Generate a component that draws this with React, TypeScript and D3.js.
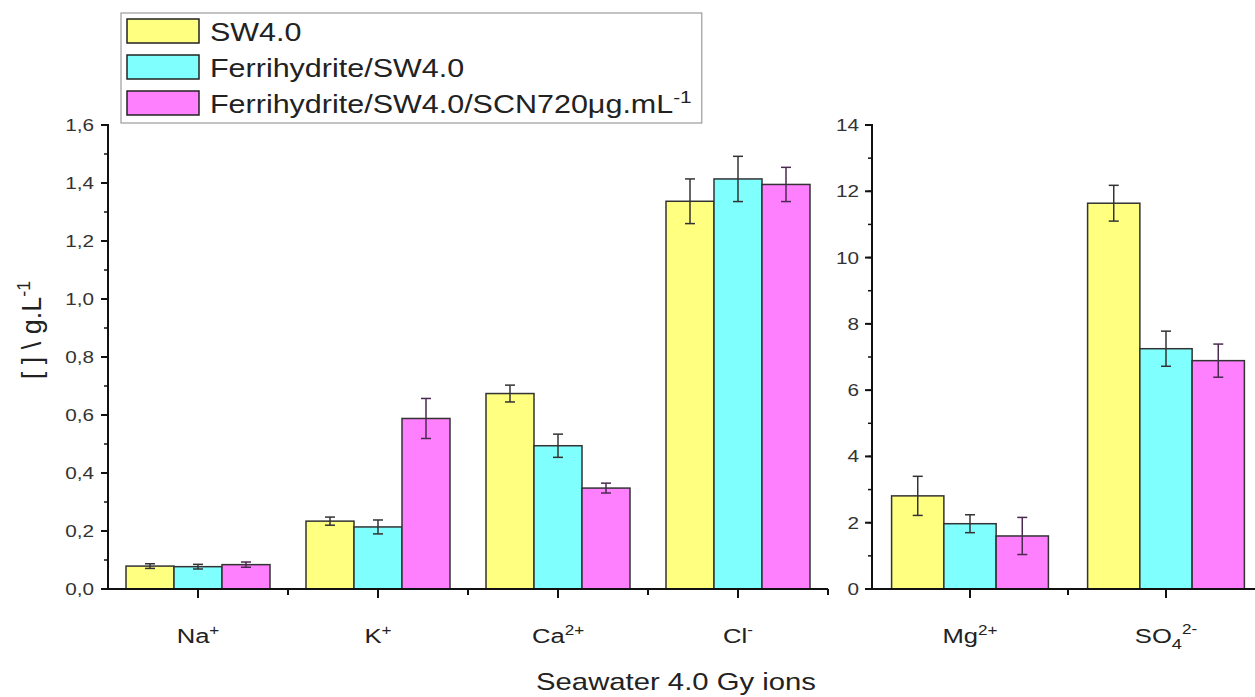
import React from "react";
import * as d3 from "d3";

const leftCategories = ["Na", "K", "Ca", "Cl"];
const leftSup = ["+", "+", "2+", "-"];
const rightCategories = ["Mg", "SO"];
const rightSub = ["", "4"];
const rightSup = ["2+", "2-"];
const seriesNames = ["SW4.0", "Ferrihydrite/SW4.0", "Ferrihydrite/SW4.0/SCN720"];
const seriesColors = ["#FFFF80", "#80FFFF", "#FF80FF"];
const errorColors = ["#333333", "#333333", "#4a2a4f"];

const sw40Left = [0.079, 0.234, 0.674, 1.337];
const ferriLeft = [0.077, 0.214, 0.494, 1.414];
const scnLeft = [0.084, 0.588, 0.348, 1.395];
const sw40LeftErr = [0.008, 0.014, 0.029, 0.077];
const ferriLeftErr = [0.008, 0.024, 0.04, 0.078];
const scnLeftErr = [0.009, 0.069, 0.017, 0.059];

const sw40Right = [2.81, 11.64];
const ferriRight = [1.97, 7.25];
const scnRight = [1.6, 6.89];
const sw40RightErr = [0.59, 0.54];
const ferriRightErr = [0.27, 0.53];
const scnRightErr = [0.56, 0.5];

const leftTicks = [0, 0.2, 0.4, 0.6, 0.8, 1.0, 1.2, 1.4, 1.6];
const rightTicks = [0, 2, 4, 6, 8, 10, 12, 14];

const W = 1255;
const H = 697;
const FONT = "'Liberation Sans', Arial, sans-serif";
const Y0 = 589;
const YTOP = 125;
const SX = 1.22;

function Panel({ x0, x1, cats, sub, sup, vals, errs, yMax, ticks, minorStep, fmt, labelGap }: any) {
  const x = d3.scaleBand<string>().domain(cats).range([x0, x1]).paddingInner(0.2).paddingOuter(0.1);
  const xs = d3.scaleBand<number>().domain([0, 1, 2]).range([0, x.bandwidth()]).padding(0);
  const y = d3.scaleLinear().domain([0, yMax]).range([Y0, YTOP]);
  const minors = d3.range(0, yMax + 1e-9, minorStep);
  const step = x.step();
  const boundaries = cats.map((_: string, i: number) => x0 + (i + 1) * step);
  return (
    <g>
      {cats.map((c: string, ci: number) =>
        [0, 1, 2].map((si) => {
          const v = vals[si][ci];
          const e = errs[si][ci];
          const bx = (x(c) as number) + (xs(si) as number);
          const cx = bx + xs.bandwidth() / 2;
          const ec = errorColors[si];
          return (
            <g key={c + si}>
              <rect x={bx} y={y(v)} width={xs.bandwidth()} height={Y0 - y(v)} fill={seriesColors[si]} stroke="#333" strokeWidth={1.5} />
              <line x1={cx} x2={cx} y1={y(v + e)} y2={y(v - e)} stroke={ec} strokeWidth={1.5} />
              <line x1={cx - 5} x2={cx + 5} y1={y(v + e)} y2={y(v + e)} stroke={ec} strokeWidth={1.5} />
              <line x1={cx - 5} x2={cx + 5} y1={y(v - e)} y2={y(v - e)} stroke={ec} strokeWidth={1.5} />
            </g>
          );
        })
      )}
      <line x1={x0} x2={x0} y1={YTOP - 1} y2={Y0 + 1} stroke="#111" strokeWidth={2} />
      {minors.map((t: number) => (
        <line key={"m" + t} x1={x0 - 4} x2={x0} y1={y(t)} y2={y(t)} stroke="#111" strokeWidth={1.5} />
      ))}
      {ticks.map((t: number) => (
        <g key={"t" + t}>
          <line x1={x0 - 7} x2={x0} y1={y(t)} y2={y(t)} stroke="#111" strokeWidth={2} />
          <g transform={`translate(${x0 - labelGap},${y(t) + 6}) scale(${SX},1)`}>
            <text x={0} y={0} textAnchor="end" fontSize={17} fill="#333" fontFamily={FONT}>{fmt(t)}</text>
          </g>
        </g>
      ))}
      <line x1={x0 - 1} x2={x1} y1={Y0} y2={Y0} stroke="#111" strokeWidth={2} />
      {cats.map((c: string, i: number) => {
        const cx = (x(c) as number) + x.bandwidth() / 2;
        return (
          <g key={"xl" + c}>
            <line x1={cx} x2={cx} y1={Y0} y2={Y0 + 9} stroke="#111" strokeWidth={2} />
            <g transform={`translate(${cx},643) scale(${SX},1)`}>
              <text x={0} y={0} textAnchor="middle" fontSize={21} fill="#222" fontFamily={FONT}>
                {c}
                {sub && sub[i] ? <tspan fontSize={15} dy={6}>{sub[i]}</tspan> : null}
                <tspan fontSize={14} dy={sub && sub[i] ? -15 : -8}>{sup[i]}</tspan>
              </text>
            </g>
          </g>
        );
      })}
      {boundaries.map((b: number, i: number) => (
        <line key={"b" + i} x1={b} x2={b} y1={Y0} y2={Y0 + 6} stroke="#111" strokeWidth={2} />
      ))}
    </g>
  );
}

function measure(text: string, size: number) {
  try {
    const c = document.createElement("canvas").getContext("2d") as CanvasRenderingContext2D;
    c.font = `${size}px 'Liberation Sans', Arial, sans-serif`;
    return c.measureText(text).width;
  } catch (e) {
    return text.length * size * 0.55;
  }
}

export default function App() {
  const fmtL = (t: number) => d3.format(".1f")(t).replace(".", ",");
  const fmtR = (t: number) => d3.format("d")(t);
  const LFS = 25;
  const row3W = (measure(seriesNames[2], LFS) + measure("μg.mL", LFS) + measure("-1", 17)) * SX;
  const legendX = 121;
  const textX = 210;
  const legendW = textX + row3W + 10 - legendX;
  return (
    <svg width={W} height={H} style={{ position: "absolute", left: 0, top: 0, background: "#fff" }}>
      <rect x={0} y={0} width={W} height={H} fill="#fff" />
      <Panel
        x0={108}
        x1={828}
        cats={leftCategories}
        sup={leftSup}
        vals={[sw40Left, ferriLeft, scnLeft]}
        errs={[sw40LeftErr, ferriLeftErr, scnLeftErr]}
        yMax={1.6}
        ticks={leftTicks}
        minorStep={0.1}
        fmt={fmtL}
        labelGap={14}
      />
      <Panel
        x0={872}
        x1={1264}
        cats={rightCategories}
        sub={rightSub}
        sup={rightSup}
        vals={[sw40Right, ferriRight, scnRight]}
        errs={[sw40RightErr, ferriRightErr, scnRightErr]}
        yMax={14}
        ticks={rightTicks}
        minorStep={1}
        fmt={fmtR}
        labelGap={13}
      />
      <text transform="translate(41,330) rotate(-90)" textAnchor="middle" fontSize={27} fill="#222" fontFamily={FONT}>
        [ ] \ g.L<tspan fontSize={18} dy={-11}>-1</tspan>
      </text>
      <g transform={`translate(676,690) scale(${SX},1)`}>
        <text x={0} y={0} textAnchor="middle" fontSize={24} fill="#222" fontFamily={FONT}>Seawater 4.0 Gy ions</text>
      </g>
      <rect x={legendX} y={13} width={legendW} height={110} fill="#fff" stroke="#888" strokeWidth={1} />
      {seriesNames.map((s, i) => (
        <g key={s}>
          <rect x={127} y={19 + i * 36} width={72} height={24} fill={seriesColors[i]} stroke="#222" strokeWidth={1.5} />
          <g transform={`translate(${textX},${41 + i * 36}) scale(${SX},1)`}>
            <text x={0} y={0} fontSize={LFS} fill="#222" fontFamily={FONT}>
              {s}
              {i === 2 ? (
                <>
                  <tspan>μg.mL</tspan>
                  <tspan fontSize={17} dy={-10}>-1</tspan>
                </>
              ) : null}
            </text>
          </g>
        </g>
      ))}
    </svg>
  );
}
